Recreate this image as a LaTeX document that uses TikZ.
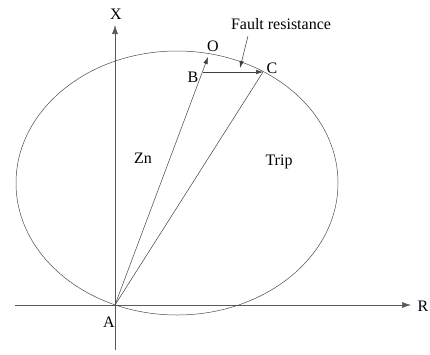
\documentclass[tikz,border=0pt]{standalone}
\usepackage{fontspec}
\setmainfont{Liberation Serif}
\usetikzlibrary{arrows.meta}
\begin{document}
\begin{tikzpicture}[x=1pt,y=-1pt,
  ln/.style={draw=black!75,line width=0.5pt},
  ax/.style={draw=black!65,line width=0.6pt,-{Latex[length=9pt,width=6pt]}},
  tip/.style={-{Latex[length=7pt,width=4.5pt]}},
  lbl/.style={font=\fontsize{16}{16}\selectfont,inner sep=0pt}]
\useasboundingbox (0,0) rectangle (430,354);
\coordinate (A) at (115,305);
\coordinate (B) at (203,72);
\coordinate (O) at (208,57);
\coordinate (C) at (263,72);
\coordinate (Xbot) at (115,350);
\coordinate (Xtop) at (115,25);
\coordinate (Rl) at (15,305);
\coordinate (Rr) at (411,305);
\coordinate (Ft) at (248,36);
\coordinate (Fh) at (240,68);
% axes
\draw[ax] (Xbot) -- (Xtop);
\draw[ax] (Rl) -- (Rr);
% ellipse
\draw[draw=black!70,line width=0.5pt] (177,183) ellipse [x radius=161, y radius=132];
% lines
\draw[ln,tip] (A) -- (O);
\draw[ln,tip] (B) -- (C);
\draw[ln] (A) -- (C);
\draw[ln,tip] (Ft) -- (Fh);
% labels
\node[lbl] (lX) at (116,14) {X};
\node[lbl] (lR) at (423,306) {R};
\node[lbl] (lA) at (109,322) {A};
\node[lbl] (lO) at (213,46) {O};
\node[lbl] (lB) at (193,77) {B};
\node[lbl] (lC) at (272,68) {C};
\node[lbl] (lF) at (281,24) {Fault resistance};
\node[lbl] (lZ) at (143,158) {Zn};
\node[lbl] (lT) at (279,162) {Trip};
\end{tikzpicture}
\end{document}
